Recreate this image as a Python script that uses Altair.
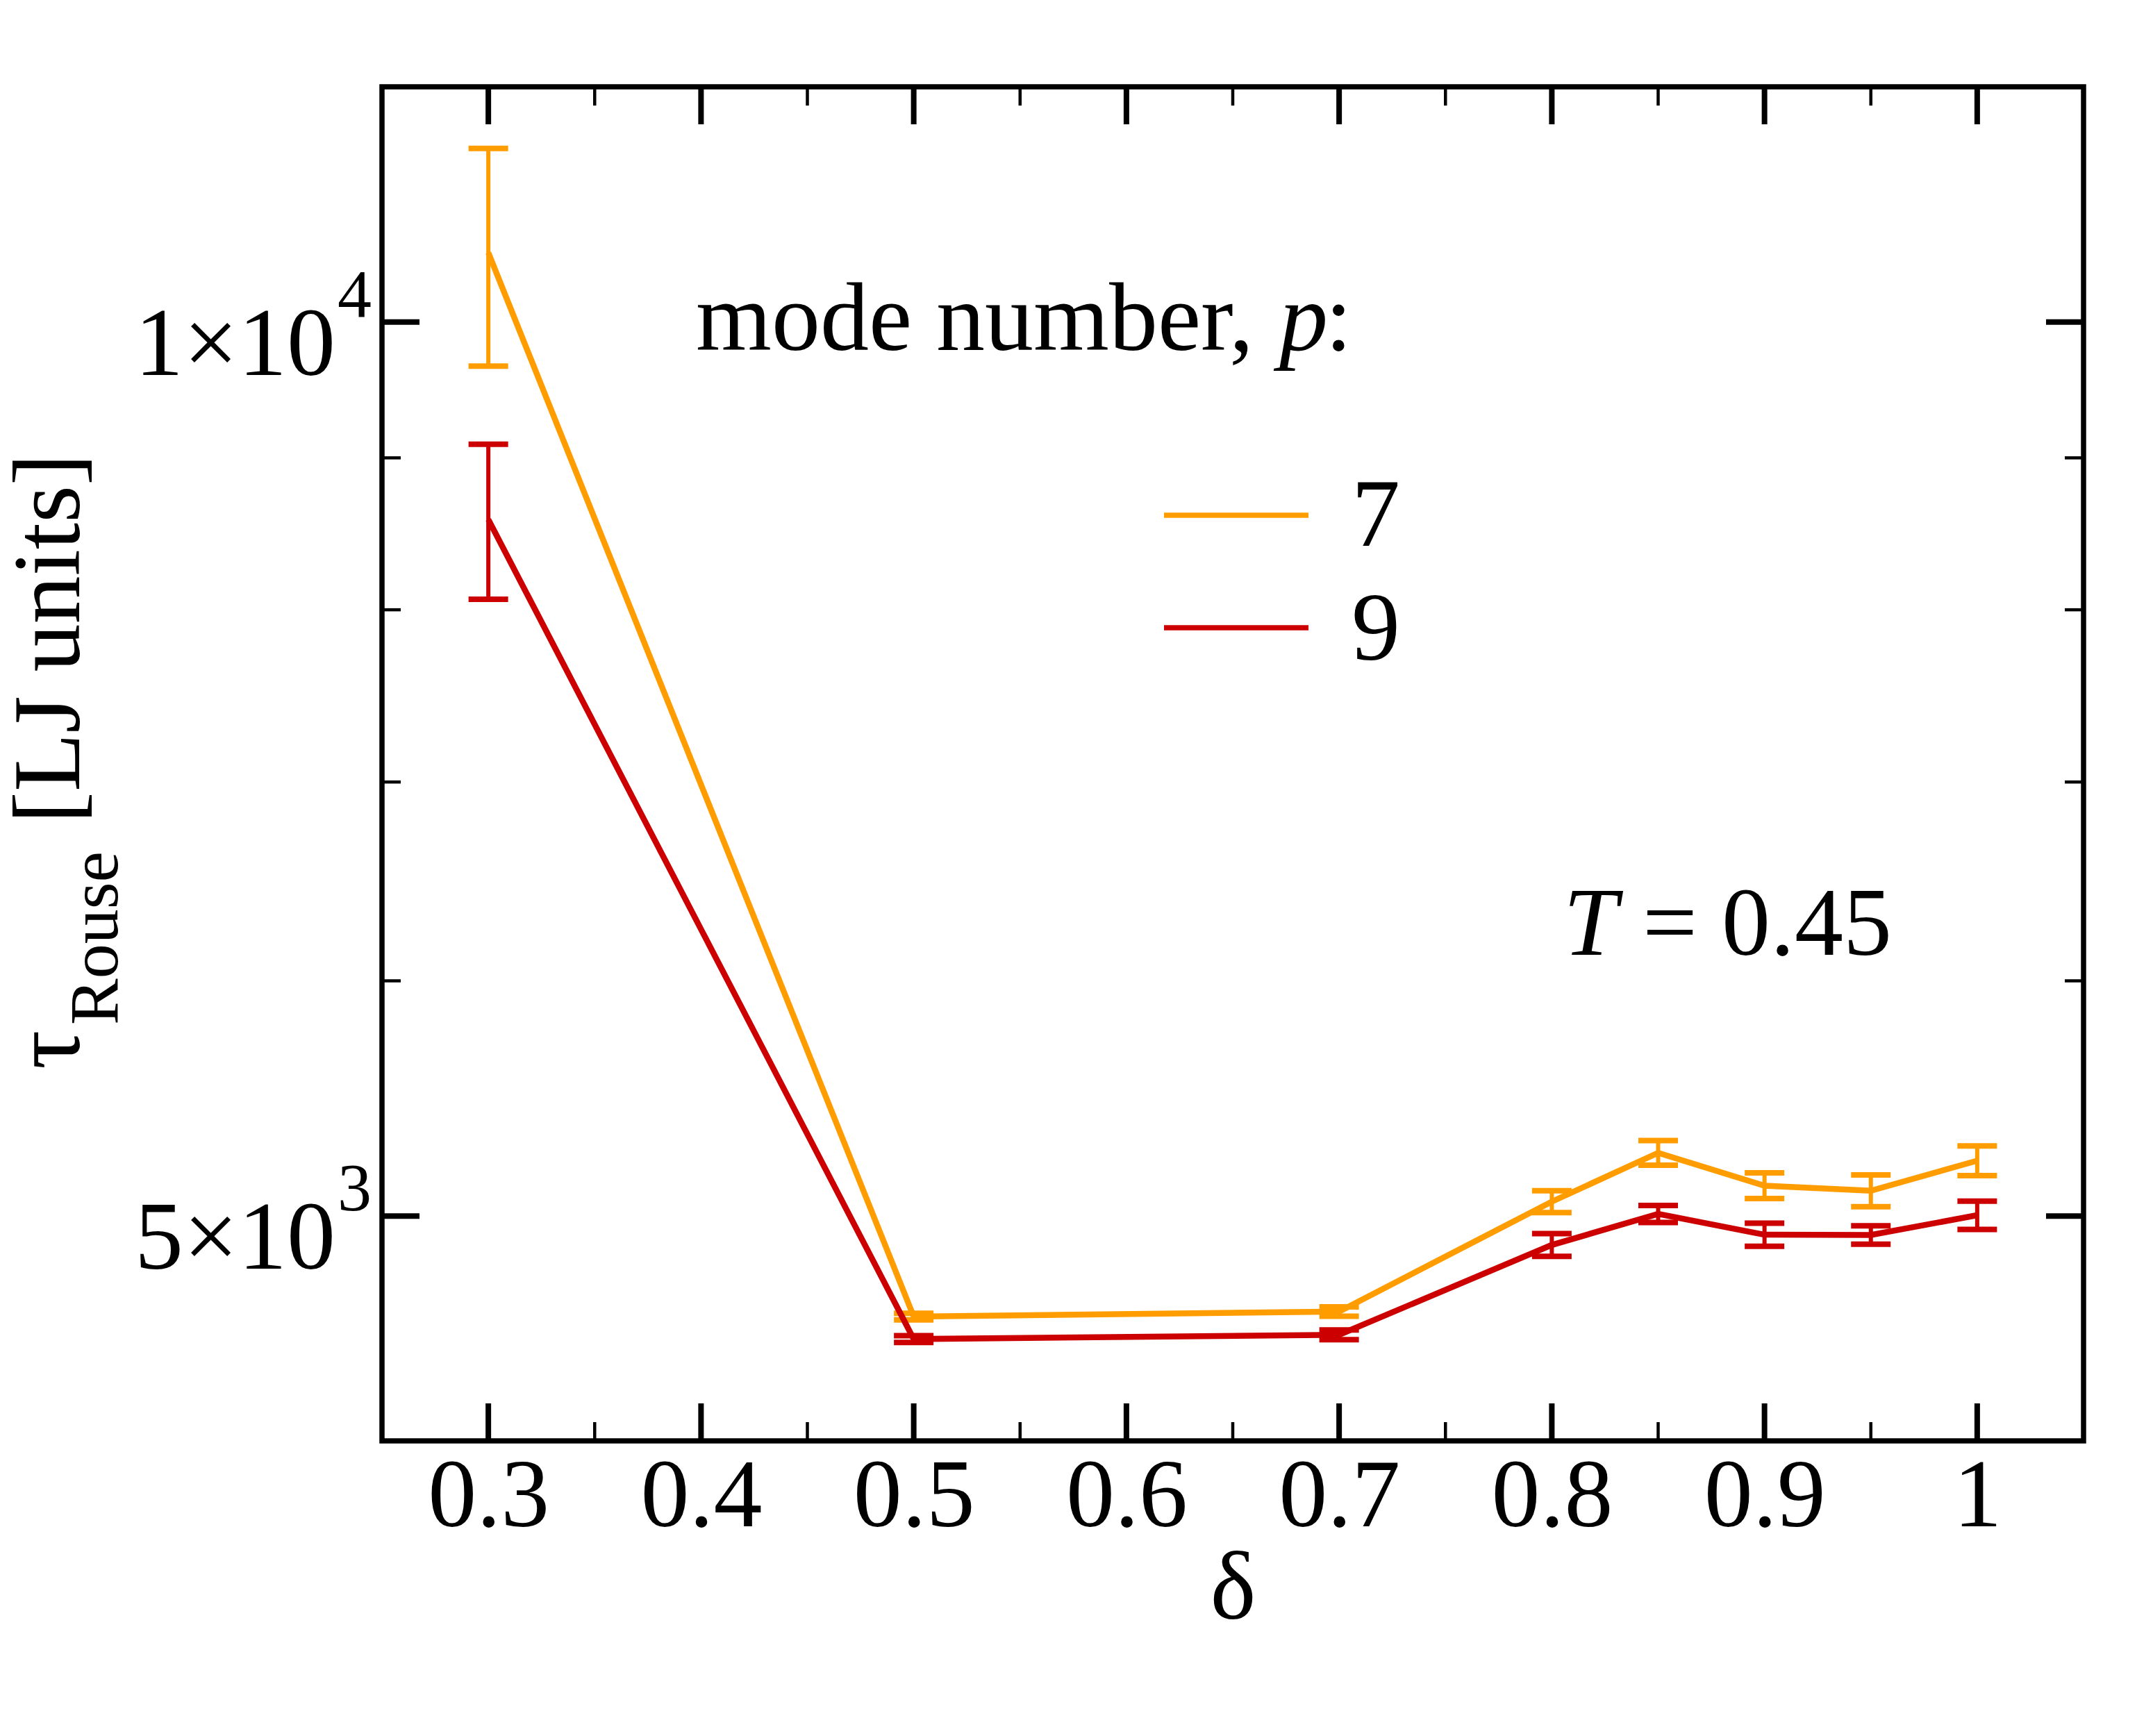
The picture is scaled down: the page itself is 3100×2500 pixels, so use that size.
import altair as alt
import pandas as pd

# ---- data ----
delta = [0.3, 0.5, 0.7, 0.8, 0.85, 0.9, 0.95, 1.0]
tau_p7 = [10552, 4625, 4643, 5056, 5251, 5119, 5099, 5219]
err_p7 = [888, 12, 17, 43, 50, 51, 63, 60]
tau_p9 = [8580, 4545, 4560, 4889, 5008, 4928, 4927, 5003]
err_p9 = [515, 12, 17, 43, 33, 44, 35, 55]

x_major = [0.3, 0.4, 0.5, 0.6, 0.7, 0.8, 0.9, 1.0]
x_minor = [0.35, 0.45, 0.55, 0.65, 0.75, 0.85, 0.95]
y_major = [5000, 10000]
y_minor = [6000, 7000, 8000, 9000]
y_lab_main = ["5×10", "1×10"]
y_lab_sup = ["3", "4"]

ORANGE = "#FF9D00"
RED = "#CC0000"
FONT = "Liberation Serif"

W, H = 2450, 1950

xscale = alt.Scale(domain=[0.25, 1.05], nice=False, zero=False)
yscale = alt.Scale(type="log", domain=[4200, 12000], nice=False)

xaxis = alt.Axis(values=x_major, format="~g", labelFontSize=140, labelFont=FONT,
                 labelColor="black", ticks=False, domain=False, grid=False,
                 labelPadding=122, labelBaseline="alphabetic", labelFlush=False,
                 labelOverlap=False, title="δ", titleFontSize=140, titleFont=FONT,
                 titleFontWeight="normal", titleColor="black", titleY=255,
                 titleBaseline="alphabetic")


def X(field):
    return alt.X(field, type="quantitative", scale=xscale, axis=xaxis)


def Y(field):
    return alt.Y(field, type="quantitative", scale=yscale, axis=None)


def series(tau, err, color):
    df = pd.DataFrame({"d": delta, "t": tau,
                       "lo": [a - b for a, b in zip(tau, err)],
                       "hi": [a + b for a, b in zip(tau, err)]})
    base = alt.Chart(df)
    line = base.mark_line(color=color, strokeWidth=8.5).encode(x=X("d"), y=Y("t"))
    stem = base.mark_rule(color=color, strokeWidth=6, opacity=1).encode(x=X("d"), y=Y("lo"), y2="hi")
    cap_lo = base.mark_tick(color=color, orient="horizontal", size=57, thickness=8,
                            opacity=1).encode(x=X("d"), y=Y("lo"))
    cap_hi = base.mark_tick(color=color, orient="horizontal", size=57, thickness=8,
                            opacity=1).encode(x=X("d"), y=Y("hi"))
    return [line, stem, cap_lo, cap_hi]


layers = []
layers += series(tau_p7, err_p7, ORANGE)
layers += series(tau_p9, err_p9, RED)

# ---- inward ticks on all four sides ----
MAJ, MIN = 54, 27
dxM = pd.DataFrame({"v": x_major})
dxm = pd.DataFrame({"v": x_minor})
dyM = pd.DataFrame({"v": y_major})
dym = pd.DataFrame({"v": y_minor})
for d, L, sw in [(dxM, MAJ, 8), (dxm, MIN, 4.5)]:
    layers.append(alt.Chart(d).mark_rule(color="black", strokeWidth=sw).encode(
        x=X("v"), y=alt.value(H), y2=alt.value(H - L)))
    layers.append(alt.Chart(d).mark_rule(color="black", strokeWidth=sw).encode(
        x=X("v"), y=alt.value(0), y2=alt.value(L)))
for d, L, sw in [(dyM, MAJ, 8), (dym, MIN, 4.5)]:
    layers.append(alt.Chart(d).mark_rule(color="black", strokeWidth=sw).encode(
        y=Y("v"), x=alt.value(0), x2=alt.value(L)))
    layers.append(alt.Chart(d).mark_rule(color="black", strokeWidth=sw).encode(
        y=Y("v"), x=alt.value(W), x2=alt.value(W - L)))

# ---- y tick labels with superscripts ----
ylab = pd.DataFrame({"v": y_major, "m": y_lab_main, "s": y_lab_sup})
layers.append(alt.Chart(ylab).mark_text(align="right", baseline="alphabetic", dy=76,
                                        fontSize=140, font=FONT, color="black").encode(
    y=Y("v"), x=alt.value(-67), text="m:N"))
layers.append(alt.Chart(ylab).mark_text(align="left", baseline="alphabetic", dy=-8,
                                        fontSize=98, font=FONT, color="black").encode(
    y=Y("v"), x=alt.value(-64), text="s:N"))


def label(txt, x, y, size=140, style="normal", angle=0, align="left"):
    kw = dict(align=align, baseline="alphabetic", fontSize=size, font=FONT,
              color="black", fontStyle=style)
    if angle:
        kw["angle"] = angle
    return alt.Chart(pd.DataFrame({"t": [txt]})).mark_text(**kw).encode(
        x=alt.value(x), y=alt.value(y), text="t:N")


# y axis title: tau_Rouse [LJ units]
layers.append(label("τ", -436, 1415, 140, angle=270))
layers.append(label("Rouse", -381, 1351, 100, angle=270))
layers.append(label("[LJ units]", -436, 1061, 138, angle=270))

# legend title
layers.append(label("mode number,", 452, 379))
layers.append(label("p", 1292, 379, style="italic"))
layers.append(label(":", 1358, 379))

# legend entries
layers.append(alt.Chart(pd.DataFrame({"a": [0]})).mark_rule(color=ORANGE, strokeWidth=7.5).encode(
    x=alt.value(1126), x2=alt.value(1334), y=alt.value(617)))
layers.append(alt.Chart(pd.DataFrame({"a": [0]})).mark_rule(color=RED, strokeWidth=7.5).encode(
    x=alt.value(1126), x2=alt.value(1334), y=alt.value(779)))
layers.append(label("7", 1396, 661))
layers.append(label("9", 1396, 825))

# temperature annotation
layers.append(label("T", 1701, 1250, style="italic"))
layers.append(label("= 0.45", 1815, 1250))

chart = alt.layer(*layers).properties(
    width=W, height=H,
    padding={"left": 542, "top": 117, "right": 92, "bottom": 417},
    autosize=alt.AutoSizeParams(type="none"),
    background="white",
).configure(font=FONT).configure_view(stroke="black", strokeWidth=7.5)

chart.save("out.html", embed_options={"renderer": "svg", "actions": False})
